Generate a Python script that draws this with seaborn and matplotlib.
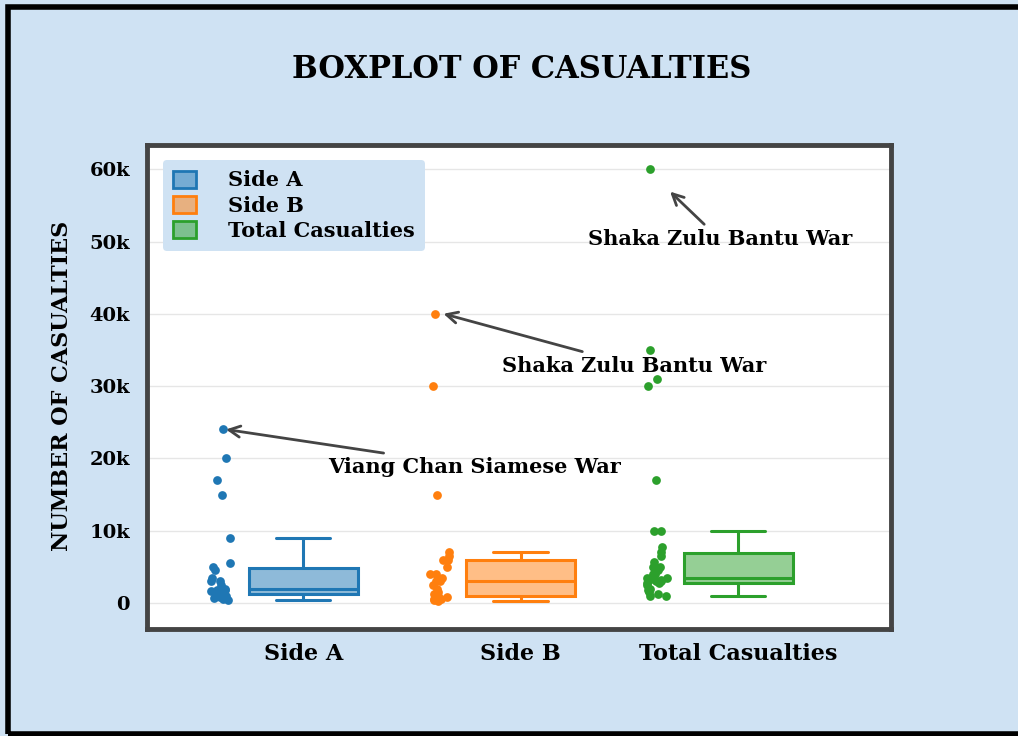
import numpy as np
import pandas as pd
import matplotlib
matplotlib.use("Agg")
import matplotlib.pyplot as plt
from matplotlib.patches import Patch, Rectangle
from matplotlib.ticker import FuncFormatter
import seaborn as sns

# casualties per war
categories = ["Side A", "Side B", "Total Casualties"]
side_a = [24000, 20000, 17000, 15000, 9000, 5500, 5000, 4500, 3500, 3000, 3000,
          2500, 2000, 1800, 1800, 1700, 1600, 1500, 1500, 1200, 1100, 1000,
          800, 700, 500, 400]
side_b = [40000, 30000, 15000, 7000, 6500, 6000, 6000, 5000, 4000, 4000, 3500,
          3000, 3000, 2500, 2000, 1500, 1200, 1000, 1000, 800, 600, 500, 400, 300]
total = [60000, 35000, 31000, 30000, 17000, 10000, 10000, 7800, 7000, 6500, 5700,
         5000, 5000, 4500, 4000, 4000, 3500, 3500, 3400, 3300, 3200, 3000, 3000,
         3000, 2800, 2700, 2500, 2000, 2000, 1800, 1500, 1200, 1000, 1000]
colors = ["#1f77b4", "#ff7f0e", "#2ca02c"]

# annotated outliers: (category index, value, label)
notes = [(0, 24000, "Viang Chan Siamese War"),
         (1, 40000, "Shaka Zulu Bantu War"),
         (2, 60000, "Shaka Zulu Bantu War")]

series = [side_a, side_b, total]
df = pd.concat([pd.DataFrame({"category": c, "pos": i, "value": v})
                for i, (c, v) in enumerate(zip(categories, series))],
               ignore_index=True)
strip_shift = -0.375
df["strip_pos"] = df["pos"] + strip_shift

sns.set_style("white")
plt.rcParams["font.family"] = ["DejaVu Serif"]
plt.rcParams["font.weight"] = "bold"
plt.rcParams["text.color"] = "black"
plt.rcParams["xtick.color"] = "black"
plt.rcParams["ytick.color"] = "black"

np.random.seed(3)  # only for the strip jitter

bg = "#cfe2f3"
fig = plt.figure(figsize=(10.18, 7.36), dpi=100, facecolor=bg)
ax = fig.add_axes([0.144, 0.1454, 0.7317, 0.6576])
ax.set_facecolor("white")

for i, (cat, col) in enumerate(zip(categories, colors)):
    sub = df[df["category"] == cat]
    n_before = len(ax.patches)
    sns.boxplot(data=sub, x="pos", y="value", native_scale=True, color=col,
                linecolor=col, width=0.5, showfliers=False, linewidth=2.2, ax=ax)
    for p in ax.patches[n_before:]:
        p.set_facecolor(matplotlib.colors.to_rgba(col, 0.5))
    sns.stripplot(data=sub, x="strip_pos", y="value", native_scale=True,
                  color=col, size=6.3, jitter=0.05, ax=ax)

ax.set_xlim(-0.72, 2.705)
ax.set_ylim(-3600, 63350)
ax.set_xticks(range(len(categories)))
ax.set_xticklabels(categories)
ax.set_yticks(np.arange(0, 60001, 10000))
ax.yaxis.set_major_formatter(FuncFormatter(lambda v, p: "0" if v == 0 else f"{int(v / 1000)}k"))
ax.tick_params(axis="y", length=0, pad=12, labelsize=14)
ax.tick_params(axis="x", length=0, pad=10, labelsize=16)
for lab in ax.get_yticklabels() + ax.get_xticklabels():
    lab.set_fontweight("bold")
ax.set_xlabel("")
ax.set_ylabel("")
ax.yaxis.grid(True, color="#e6e6e6", linewidth=1)
ax.set_axisbelow(True)
for s in ax.spines.values():
    s.set_color("#444444")
    s.set_linewidth(3.5)

text_pos = [(0.79, 18840), (1.52, 32830), (1.917, 50280)]
tips = [(-0.355, 24000), (0.645, 40000), (1.687, 56900)]
for (ci, val, label), tp, tip in zip(notes, text_pos, tips):
    ax.annotate(label, xy=tip, xytext=tp, ha="center", va="center",
                fontsize=15, fontweight="bold",
                arrowprops=dict(arrowstyle="->", color="#444444", lw=2,
                                mutation_scale=20, shrinkA=2, shrinkB=0))

handles = [Patch(facecolor=matplotlib.colors.to_rgba(c, 0.5), edgecolor=c,
                 linewidth=2, label=l) for c, l in zip(colors, categories)]
leg = ax.legend(handles=handles, loc="upper left", bbox_to_anchor=(0.022, 0.969),
                borderaxespad=0, frameon=True, fontsize=15, handlelength=1.1,
                handleheight=0.9, handletextpad=1.5, labelspacing=0.25,
                borderpad=0.5)
leg.get_frame().set_facecolor(bg)
leg.get_frame().set_edgecolor("none")
leg.get_frame().set_alpha(1)
for t in leg.get_texts():
    t.set_fontweight("bold")

fig.text(0.512, 0.905, "BOXPLOT OF CASUALTIES", ha="center", va="center",
         fontsize=22, fontweight="bold")
fig.text(0.061, 0.4755, "NUMBER OF CASUALTIES", ha="center", va="center",
         rotation=90, fontsize=16, fontweight="bold")

fig.patches.append(Rectangle((0.0075, 0.003), 1.2, 0.987, transform=fig.transFigure,
                             fill=False, edgecolor="black", linewidth=4, zorder=10))

fig.savefig("out.png", dpi=100, facecolor=bg)
